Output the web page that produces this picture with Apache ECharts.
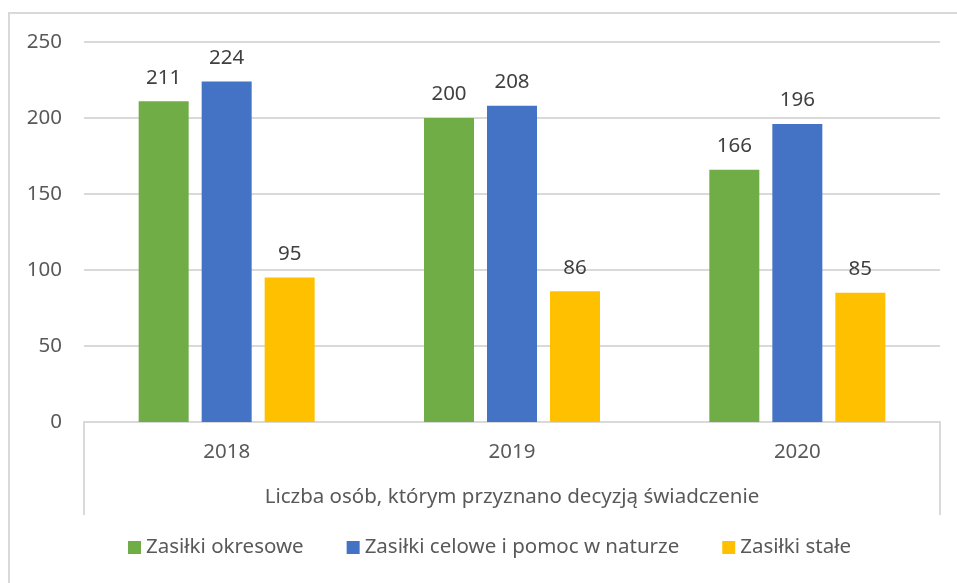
<!DOCTYPE html>
<html lang="pl" style="height: 100%">
<head>
    <meta charset="utf-8">
    <title>Liczba osób</title>
    <script src="https://cdn.jsdelivr.net/npm/echarts@6/dist/echarts.min.js"></script>
</head>
<body style="height: 100%; margin: 0; background: #fff">
<div id="container" style="width: 957px; height: 583px"></div>
<script type="text/javascript">
    // dane
    var years = ['2018', '2019', '2020'];
    var groupLabel = ['Liczba osób, którym przyznano decyzją świadczenie'];
    var okresowe = [211, 200, 166];
    var celowe = [224, 208, 196];
    var stale = [95, 86, 85];
    var seriesNames = ['Zasiłki okresowe', 'Zasiłki celowe i pomoc w naturze', 'Zasiłki stałe'];

    var FONT = 'Noto Sans';
    var FS = 20.5;
    var GRAY = '#d9d9d9';
    var TXT = '#595959';

    var myChart = echarts.init(document.getElementById('container'), null, {renderer: 'canvas'});

    function bar(name, data, color) {
        return {
            name: name,
            type: 'bar',
            data: data,
            barWidth: 50,
            barGap: '26%',
            itemStyle: {color: color},
            label: {
                show: true,
                position: 'top',
                distance: 13,
                color: '#404040',
                fontFamily: FONT,
                fontSize: FS
            }
        };
    }

    var option = {
        animation: false,
        backgroundColor: '#fff',
        textStyle: {fontFamily: FONT},
        graphic: [{
            type: 'rect',
            shape: {x: 9, y: 13, width: 1000, height: 700},
            style: {fill: 'none', stroke: GRAY, lineWidth: 2},
            silent: true
        }],
        grid: {left: 84, right: 17, top: 42, bottom: 161},
        legend: {
            bottom: 20,
            left: 123,
            itemWidth: 13,
            itemHeight: 13,
            itemGap: 43,
            icon: 'rect',
            textStyle: {color: TXT, fontSize: FS, fontFamily: FONT},
            data: seriesNames
        },
        xAxis: [{
            type: 'category',
            data: years,
            axisLine: {lineStyle: {color: GRAY, width: 2}},
            axisTick: {show: false},
            axisLabel: {color: TXT, fontSize: FS, margin: 20, fontFamily: FONT}
        }, {
            type: 'category',
            data: groupLabel,
            position: 'bottom',
            axisLine: {show: false},
            axisTick: {show: true, length: 93, lineStyle: {color: GRAY, width: 2}},
            axisLabel: {color: TXT, fontSize: FS, margin: 65, fontFamily: FONT}
        }],
        yAxis: {
            type: 'value',
            min: 0,
            max: 250,
            interval: 50,
            axisLine: {show: false},
            axisTick: {show: false},
            splitLine: {lineStyle: {color: GRAY, width: 2}},
            axisLabel: {color: TXT, fontSize: FS, margin: 22, fontFamily: FONT}
        },
        series: [
            bar(seriesNames[0], okresowe, '#70ad47'),
            bar(seriesNames[1], celowe, '#4472c4'),
            bar(seriesNames[2], stale, '#ffc000')
        ]
    };

    myChart.setOption(option);
    window.addEventListener('resize', myChart.resize);
</script>
</body>
</html>
